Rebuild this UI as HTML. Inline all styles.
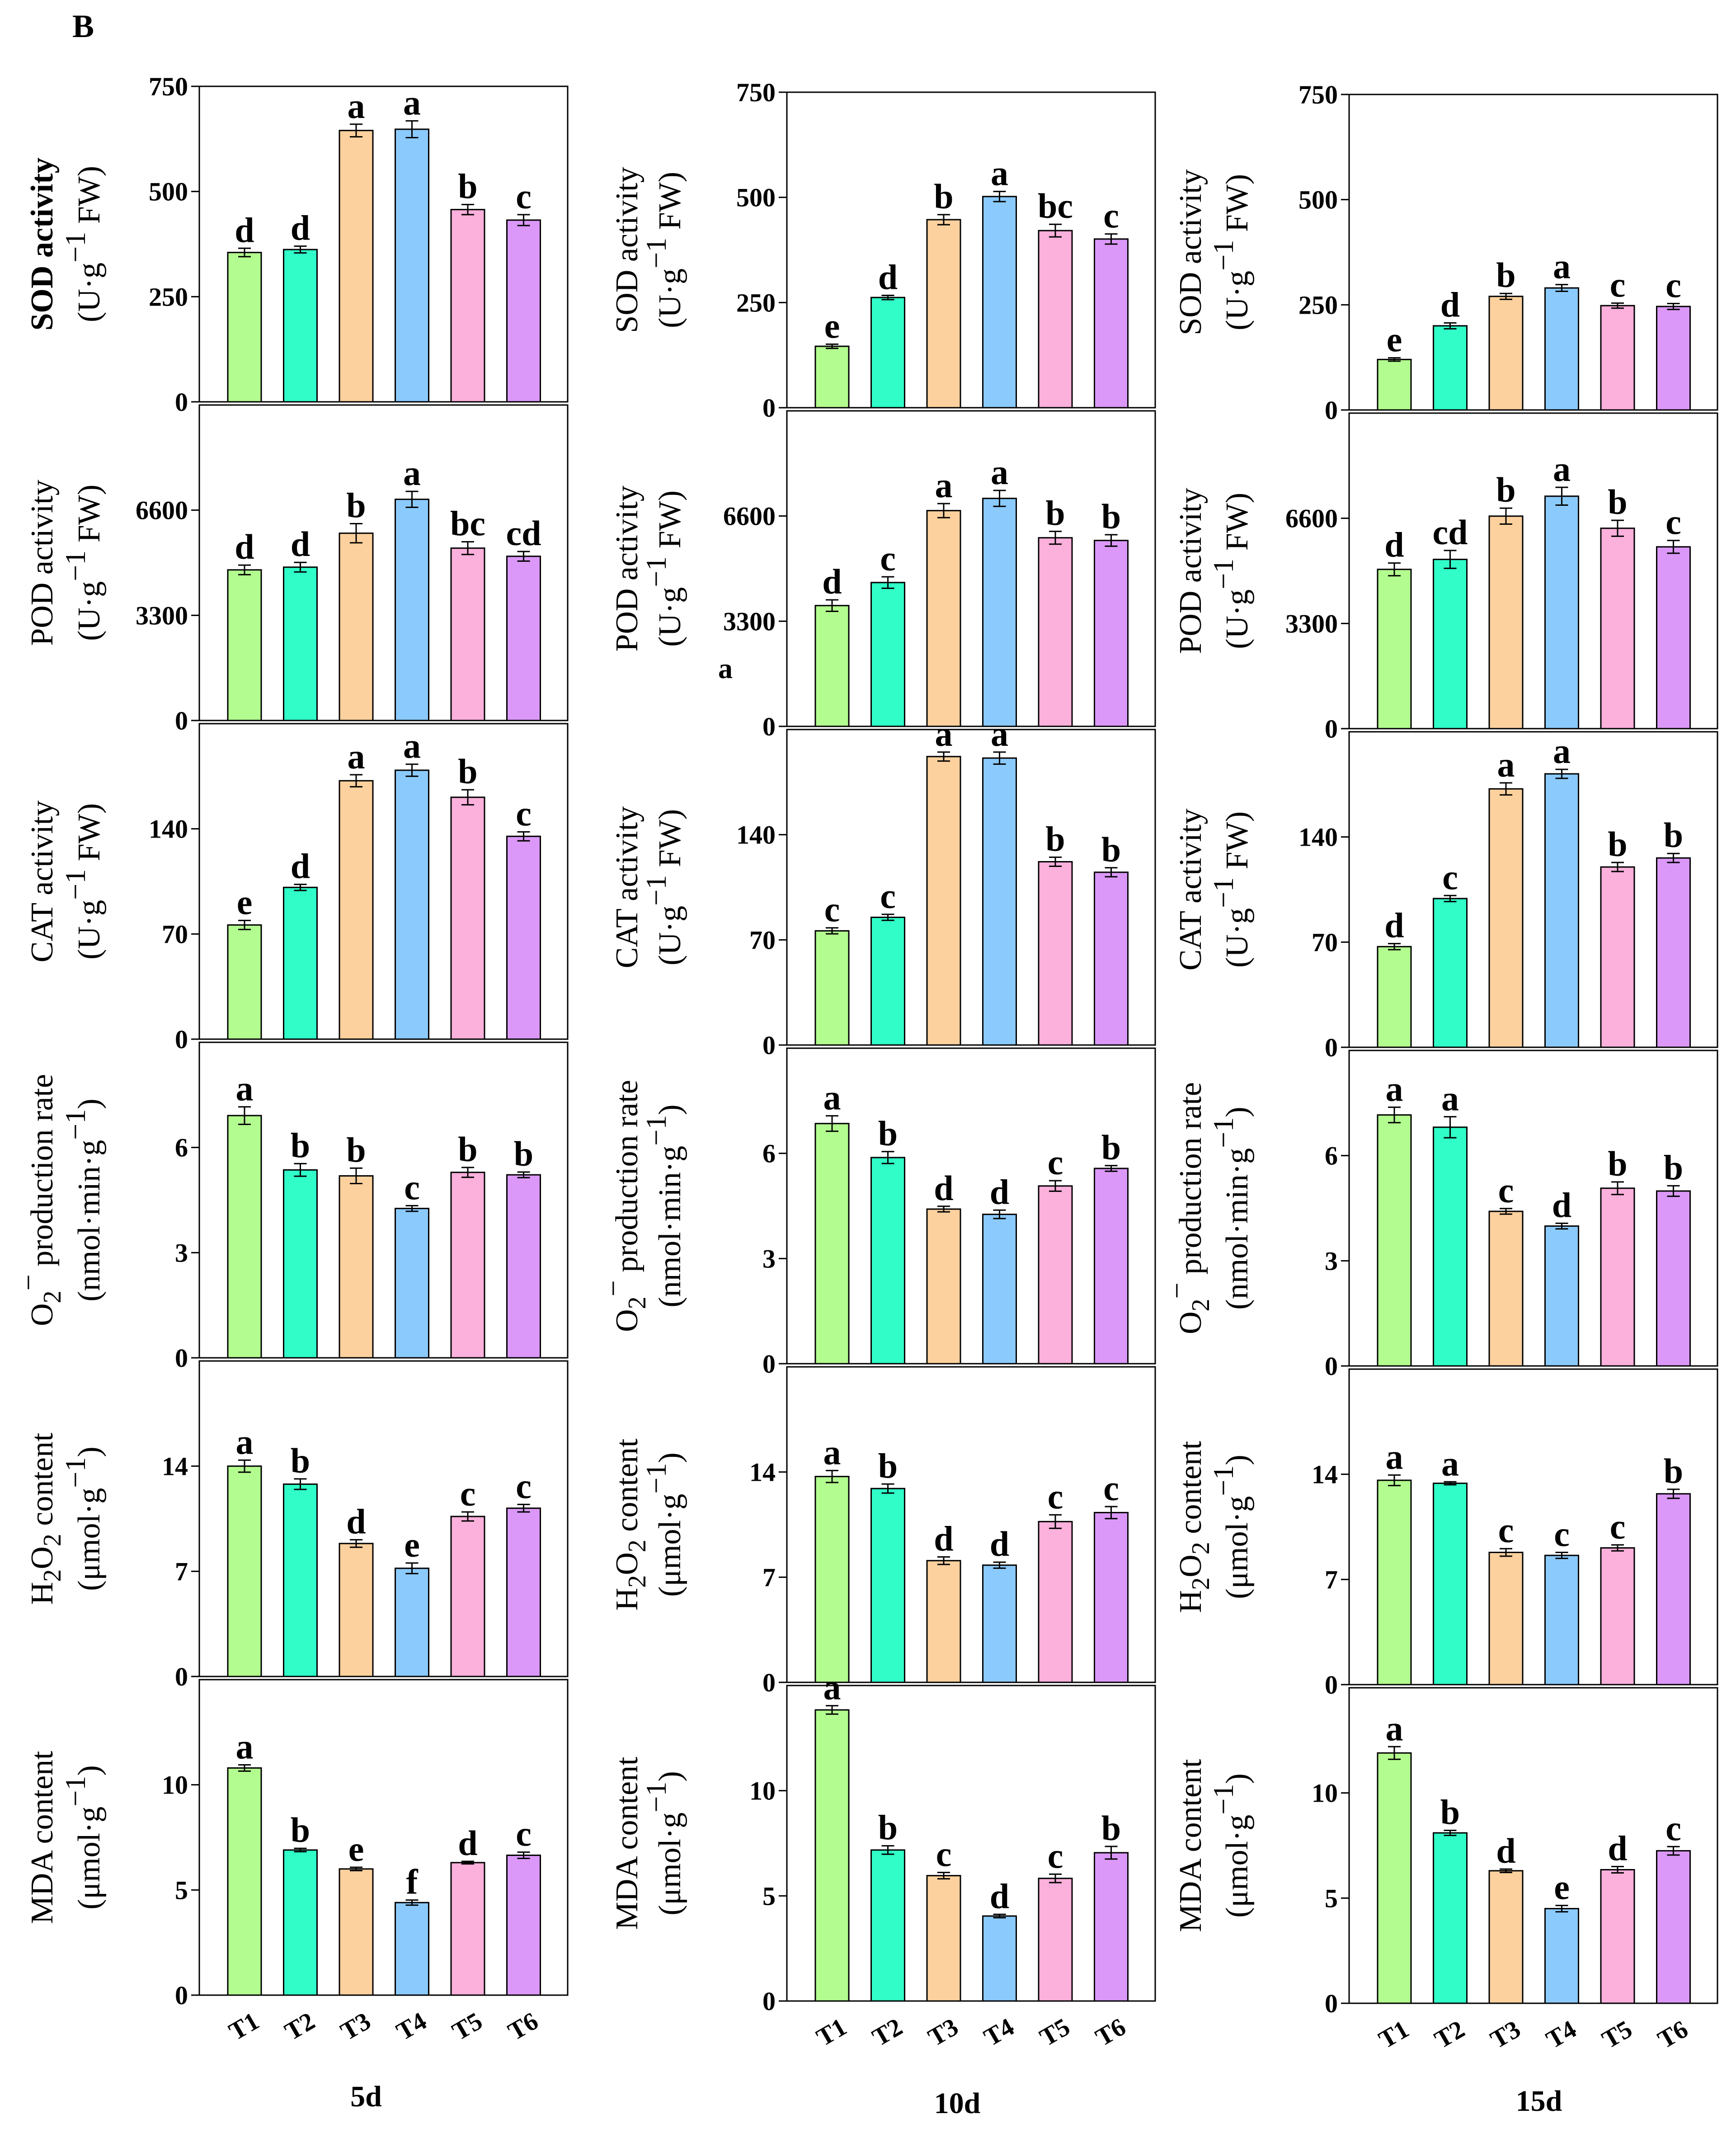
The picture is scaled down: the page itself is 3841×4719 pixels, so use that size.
<!DOCTYPE html>
<html><head><meta charset="utf-8"><style>
html,body{margin:0;padding:0;background:#fff;}
svg{display:block;font-family:"Liberation Serif",serif;}
</style></head><body>
<svg id="fig" width="3841" height="4719" viewBox="0 0 3841 4719" xmlns="http://www.w3.org/2000/svg">
<text x="160" y="82" font-size="72" font-weight="bold">B</text>
<text x="810" y="4660" font-size="66" font-weight="bold" text-anchor="middle">5d</text>
<text x="2118" y="4675" font-size="66" font-weight="bold" text-anchor="middle">10d</text>
<text x="3405" y="4670" font-size="66" font-weight="bold" text-anchor="middle">15d</text>
<text x="1605" y="1500" font-size="64" font-weight="bold" text-anchor="middle">a</text>
<g id="charts"></g>
</svg>
<script>
const categories = ["T1","T2","T3","T4","T5","T6"];
const colors = ["#b3fc8f","#30fdc8","#fdd19e","#8bcafd","#fcb0dc","#db98f8"];
const metrics = ["SOD","POD","CAT","O2","H2O2","MDA"];
const axisMax = [750, 9900, 210, 9, 21, 15];
const tickVals = [[0,250,500,750],[0,3300,6600],[0,70,140],[0,3,6],[0,7,14],[0,5,10]];

// values[col][row]
const sod5 = [355,362,645,648,457,432];
const sod10 = [146,262,447,502,421,401];
const sod15 = [120,200,270,290,248,246];
const pod5 = [4726,4811,5876,6940,5408,5152];
const pod10 = [3790,4513,6770,7153,5918,5833];
const pod15 = [4997,5310,6668,7293,6287,5704];
const cat5 = [76,101,172,179,161,135];
const cat10 = [76,85,192,191,122,115];
const cat15 = [67,99,172,182,120,126];
const o2_5 = [6.91,5.36,5.19,4.26,5.29,5.22];
const o2_10 = [6.85,5.88,4.41,4.26,5.07,5.57];
const o2_15 = [7.16,6.81,4.41,3.99,5.07,4.99];
const h2o2_5 = [14.0,12.8,8.85,7.2,10.65,11.2];
const h2o2_10 = [13.7,12.9,8.1,7.8,10.7,11.3];
const h2o2_15 = [13.6,13.4,8.8,8.6,9.1,12.7];
const mda5 = [10.8,6.9,6.0,4.4,6.3,6.65];
const mda10 = [13.84,7.18,5.96,4.04,5.83,7.05];
const mda15 = [11.9,8.1,6.3,4.5,6.35,7.25];

const errSod5 = [10,8,15,20,12,13], errSod10=[5,5,12,12,15,12], errSod15=[4,7,7,8,6,7];
const errPod5 = [150,150,300,250,200,150], errPod10=[180,180,220,250,200,180], errPod15=[200,280,250,280,250,200];
const errCat5 = [3,2,4,4,5,3], errCat10=[2,2,3,4,3,3], errCat15=[2,2,4,3,3,3];
const errO2_5 = [0.25,0.18,0.22,0.08,0.14,0.08], errO2_10=[0.22,0.17,0.08,0.12,0.15,0.08], errO2_15=[0.22,0.3,0.08,0.08,0.18,0.15];
const errH5 = [0.4,0.35,0.25,0.35,0.3,0.25], errH10=[0.4,0.3,0.25,0.2,0.45,0.4], errH15=[0.35,0.1,0.25,0.2,0.2,0.3];
const errM5 = [0.15,0.08,0.08,0.12,0.06,0.15], errM10=[0.2,0.2,0.15,0.08,0.2,0.3], errM15=[0.3,0.12,0.08,0.15,0.15,0.2];

const letters5 = [["d","d","a","a","b","c"],["d","d","b","a","bc","cd"],["e","d","a","a","b","c"],["a","b","b","c","b","b"],["a","b","d","e","c","c"],["a","b","e","f","d","c"]];
const letters10 = [["e","d","b","a","bc","c"],["d","c","a","a","b","b"],["c","c","a","a","b","b"],["a","b","d","d","c","b"],["a","b","d","d","c","c"],["a","b","c","d","c","b"]];
const letters15 = [["e","d","b","a","c","c"],["d","cd","b","a","b","c"],["d","c","a","a","b","b"],["a","a","c","d","b","b"],["a","a","c","c","c","b"],["a","b","d","e","d","c"]];

const values = [[sod5,pod5,cat5,o2_5,h2o2_5,mda5],[sod10,pod10,cat10,o2_10,h2o2_10,mda10],[sod15,pod15,cat15,o2_15,h2o2_15,mda15]];
const errors = [[errSod5,errPod5,errCat5,errO2_5,errH5,errM5],[errSod10,errPod10,errCat10,errO2_10,errH10,errM10],[errSod15,errPod15,errCat15,errO2_15,errH15,errM15]];
const letters = [letters5, letters10, letters15];

// layout
const lefts = [441, 1741, 2985];
const topStart = [191, 204, 209];
const rowStep = 705, plotH = 698, plotW = 815;
const labX = [[116,220],[1410,1505],[2657,2760]];

const NS = "http://www.w3.org/2000/svg";
const root = document.getElementById("charts");
function mk(tag, attrs, parent){ const e=document.createElementNS(NS,tag); for(const k in attrs) e.setAttribute(k,attrs[k]); (parent||root).appendChild(e); return e; }

// y-label segments: [text, type]
const yLabels = [
 [[["SOD activity","n"]],[["(U·g","n"],["−1","sup"],[" FW)","n"]]],
 [[["POD activity","n"]],[["(U·g","n"],["−1","sup"],[" FW)","n"]]],
 [[["CAT activity","n"]],[["(U·g","n"],["−1","sup"],[" FW)","n"]]],
 [[["O","n"],["2","sub"],["−","sup"],[" production rate","n"]],[["(nmol·min·g","n"],["−1","sup"],[")","n"]]],
 [[["H","n"],["2","sub"],["O","n"],["2","sub"],[" content","n"]],[["(μmol·g","n"],["−1","sup"],[")","n"]]],
 [[["MDA content","n"]],[["(μmol·g","n"],["−1","sup"],[")","n"]]]
];

function addLine(parent, segs, x, y, bold){
  const t = mk("text",{x:x,y:y,"font-size":70,"text-anchor":"middle",transform:`rotate(-90 ${x} ${y})`,"font-weight":bold?"bold":"normal"},parent);
  let shift=0;
  segs.forEach(s=>{
    const sp=document.createElementNS(NS,"tspan");
    let target = s[1]==="sup"?-32:(s[1]==="sub"?18:0);
    sp.setAttribute("dy", target-shift); shift=target;
    if(s[1]!=="n") sp.setAttribute("font-size", s[1]==="sup"?"64":"56");
    sp.textContent=s[0]; t.appendChild(sp);
  });
  return t;
}

for(let c=0;c<3;c++){
  for(let r=0;r<6;r++){
    const L=lefts[c], T=topStart[c]+r*rowStep, B=T+plotH, max=axisMax[r];
    const y = v => B - v/max*plotH;
    const xc = i => L + 100 + i*123.5;
    const g = mk("g",{});
    
    
    const frame = mk("rect",{x:L,y:T,width:plotW,height:plotH,fill:"none",stroke:"#000","stroke-width":3},g);
    
    
    tickVals[r].forEach(v=>{
      const tk = mk("line",{x1:L-18,x2:L,y1:y(v),y2:y(v),stroke:"#000","stroke-width":3},g);
      
      
      const tl = mk("text",{x:L-25,y:y(v)+20,"font-size":58,"font-weight":"bold","text-anchor":"end"},g);
      
      
      tl.textContent=v;
    });
    const vals=values[c][r], errs=errors[c][r], lets=letters[c][r];
    vals.forEach((v,i)=>{
      const bw=74;
      const bar = mk("rect",{x:xc(i)-bw/2,y:y(v),width:bw,height:B-y(v),fill:colors[i],stroke:"#000","stroke-width":3},g);
      
      
      const e=errs[i];
      const eb = mk("path",{d:`M${xc(i)} ${y(v+e)}V${y(v-e)}M${xc(i)-14} ${y(v+e)}H${xc(i)+14}M${xc(i)-14} ${y(v-e)}H${xc(i)+14}`,stroke:"#000","stroke-width":3,fill:"none"},g);
      
      
      const lt = mk("text",{x:xc(i),y:y(v+e)-14,"font-size":78,"font-weight":"bold","text-anchor":"middle"},g);
      
      
      lt.textContent=lets[i];
      if(r===5){
        const xl=xc(i)+8, yl=B+85;
        const xt = mk("text",{x:xl,y:yl,"font-size":56,"font-weight":"bold","text-anchor":"middle",transform:`rotate(-30 ${xl} ${yl})`},g);
        
        
        xt.textContent=categories[i];
      }
    });
    const cy = T+plotH/2;
    const l1 = addLine(g, yLabels[r][0], labX[c][0], cy, c===0 && r===0);
    
    
    const l2 = addLine(g, yLabels[r][1], labX[c][1], cy, false);
    
    
  }
}
</script>
</body></html>
